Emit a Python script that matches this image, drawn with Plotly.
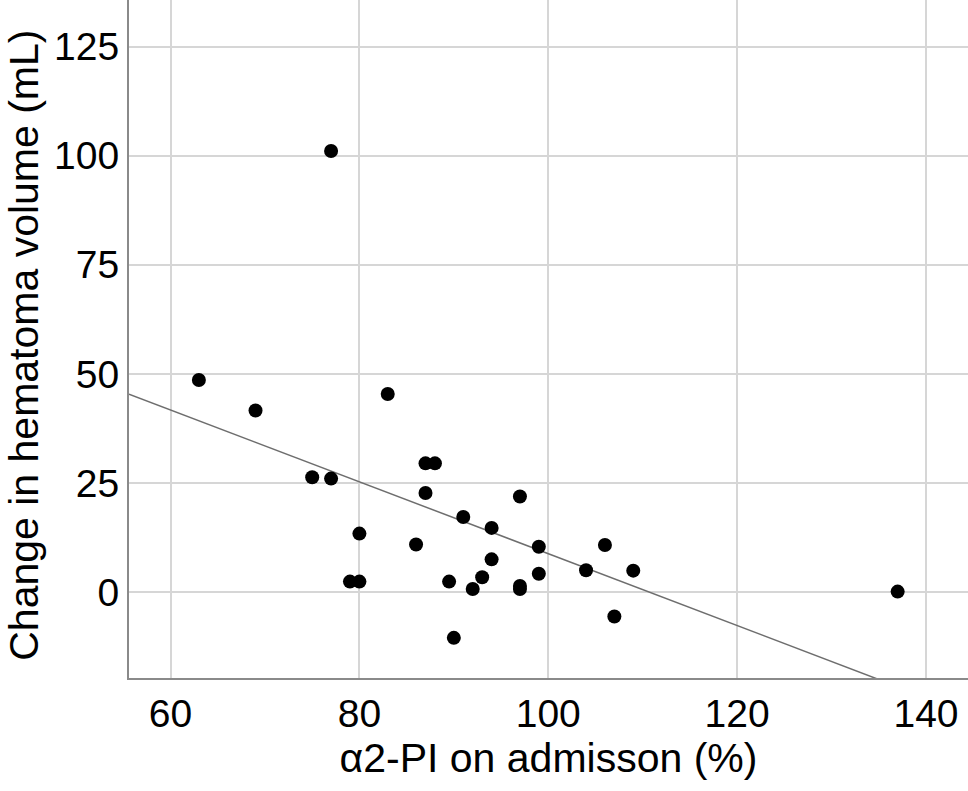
import numpy as np
import plotly.graph_objects as go

# alpha2-PI on admission (%)
a2pi = [63.0, 69.0, 83.0, 75.0, 77.0, 87.0, 88.0, 87.0, 97.0, 91.0,
        94.0, 80.0, 86.0, 99.0, 94.0, 93.0, 99.0, 79.0, 80.0, 89.5,
        92.0, 97.0, 97.0, 90.0, 77.0, 104.0, 106.0, 109.0, 107.0, 137.0]
# change in hematoma volume (mL)
dvol = [48.6, 41.6, 45.4, 26.3, 26.0, 29.5, 29.5, 22.7, 21.9, 17.2,
        14.7, 13.4, 10.9, 10.4, 7.5, 3.4, 4.2, 2.4, 2.4, 2.4,
        0.7, 1.4, 0.7, -10.5, 101.1, 5.0, 10.8, 4.9, -5.6, 0.1]

x_ticks = [60, 80, 100, 120, 140]
y_ticks = [0, 25, 50, 75, 100, 125]
x_range = [55.6, 144.45]
y_range = [-19.7, 135.7]

slope, intercept = np.polyfit(a2pi, dvol, 1)
fx = np.array(x_range)
fy = intercept + slope * fx

FONT = "Liberation Sans, Arial, sans-serif"
ML, MB = 129, 113
PW = 968 - ML

fig = go.Figure()
fig.add_trace(go.Scatter(x=fx, y=fy, mode="lines",
                         line=dict(color="#6e6e6e", width=1.5),
                         hoverinfo="skip", showlegend=False))
fig.add_trace(go.Scatter(x=a2pi, y=dvol, mode="markers",
                         marker=dict(color="black", size=14),
                         showlegend=False))

fig.update_layout(
    width=968, height=791,
    margin=dict(l=ML, r=0, t=0, b=MB),
    paper_bgcolor="white", plot_bgcolor="white",
    font=dict(family=FONT, color="black"),
)
fig.update_xaxes(
    range=x_range, tickvals=x_ticks, ticktext=[str(v) for v in x_ticks],
    tickfont=dict(size=39), showgrid=True, gridcolor="#d6d6d6", gridwidth=1.5,
    zeroline=False, showline=True, linecolor="#8a8a8a", linewidth=2,
    ticks="", automargin=False,
    title=dict(text="α2-PI on admisson (%)", font=dict(size=41), standoff=10),
)
fig.update_yaxes(
    range=y_range, tickvals=y_ticks, ticktext=[str(v) for v in y_ticks],
    tickfont=dict(size=39), showgrid=True, gridcolor="#d6d6d6", gridwidth=1.5,
    zeroline=False, showline=True, linecolor="#8a8a8a", linewidth=2,
    ticks="", automargin=False,
)
fig.add_annotation(
    text="Change in hematoma volume (mL)", textangle=-90,
    xref="paper", yref="paper", x=-(ML - 24) / PW, y=0.49,
    xanchor="center", yanchor="middle", showarrow=False,
    font=dict(size=41, family=FONT, color="black"),
)

fig.write_html("out.html",
               config={"displayModeBar": False},
               post_script="document.body.style.margin='0';document.body.style.overflow='hidden';")
